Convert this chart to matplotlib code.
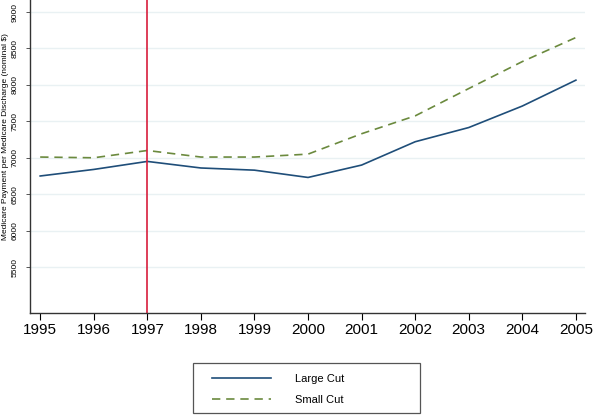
import matplotlib.pyplot as plt
from matplotlib.patches import Rectangle

plt.rcParams['font.family'] = ['Liberation Sans', 'DejaVu Sans']

# Medicare payment per discharge
years = [1995, 1996, 1997, 1998, 1999, 2000, 2001, 2002, 2003, 2004, 2005]
large_cut = [6750, 6840, 6950, 6860, 6830, 6730, 6900, 7220, 7415, 7710, 8065]
small_cut = [7010, 7000, 7100, 7010, 7010, 7050, 7330, 7575, 7950, 8320, 8650]
yticks = [5500, 6000, 6500, 7000, 7500, 8000, 8500, 9000]
policy_year = 1997

W, H = 593, 415
fig = plt.figure(figsize=(W / 100, H / 100), dpi=100)
ax = fig.add_axes([30 / W, (H - 313) / H, 555 / W, 313 / H])

ax.plot(years, large_cut, color='#1f4e79', lw=1.2, label='Large Cut')
ax.plot(years, small_cut, color='#6b8a3e', lw=1.2, ls=(0, (5, 3.5)), label='Small Cut')
ax.axvline(policy_year, color='#d81e3c', lw=1.2)

ax.set_xlim(1994.81, 2005.17)
ax.set_ylim(4870, 9165)
ax.set_xticks(years)
ax.set_yticks(yticks)
ax.set_yticklabels([str(v) for v in yticks], rotation=90, va='center', fontsize=6.1)
ax.tick_params(axis='y', length=3, width=0.7, pad=5.5, color='#555555')
ax.tick_params(axis='x', length=5, width=0.8, labelsize=11, pad=2)
ax.grid(axis='y', color='#e9f1f3', lw=1)
ax.set_axisbelow(True)
for s in ['top', 'right']:
    ax.spines[s].set_visible(False)
for s in ['left', 'bottom']:
    ax.spines[s].set_linewidth(1.0)
    ax.spines[s].set_color('#333333')

ax.set_ylabel('Medicare Payment per Medicare Discharge (nominal $)', fontsize=6)
ax.yaxis.set_label_coords(-21 / 555, 0.565)

# legend box
fig.patches.append(Rectangle((193 / W, (H - 413) / H), 227 / W, 50 / H,
                             transform=fig.transFigure, fill=False,
                             edgecolor='#555555', lw=0.9))
handles, labels = ax.get_legend_handles_labels()
fig.legend(handles, labels, loc='upper left', bbox_to_anchor=(212 / W, (H - 374) / H),
           frameon=False, borderpad=0, borderaxespad=0, fontsize=8,
           handlelength=5.3, handletextpad=2.2, labelspacing=1.0)

fig.savefig('out.png', dpi=100)
